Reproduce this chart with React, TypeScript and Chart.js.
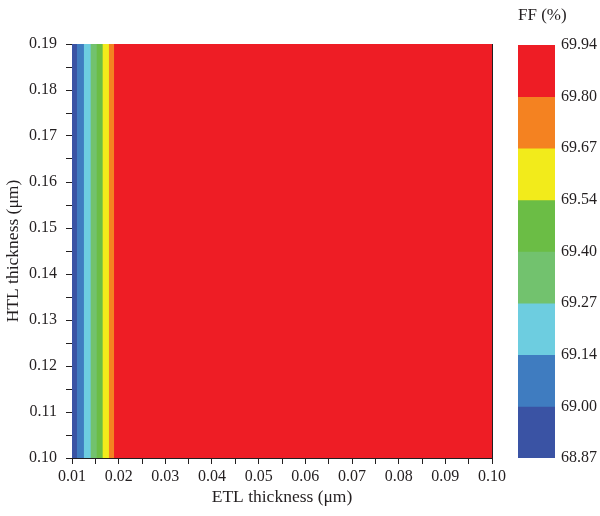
import React, { useEffect, useRef } from 'react';
import { Chart, registerables } from 'chart.js';

Chart.register(...registerables);

// ETL thickness (µm) where each FF level region begins (region extends to the right edge)
const etlLevelStarts = [0.01, 0.01107, 0.01251, 0.01395, 0.01524, 0.01652, 0.01788, 0.01901];
const etlMin = 0.01;
const etlMax = 0.1;
const htlMin = 0.1;
const htlMax = 0.19;
const ffLevels = ['68.87', '69.00', '69.14', '69.27', '69.40', '69.54', '69.67', '69.80', '69.94'];
const levelColors = ['#3a53a4', '#3f7cc0', '#6dcde0', '#72c26e', '#6bbd45', '#f2eb1b', '#f48221', '#ee1d25'];
const xTickValues = [0.01, 0.015, 0.02, 0.025, 0.03, 0.035, 0.04, 0.045, 0.05, 0.055, 0.06, 0.065, 0.07, 0.075, 0.08, 0.085, 0.09, 0.095, 0.1];
const yTickValues = [0.1, 0.105, 0.11, 0.115, 0.12, 0.125, 0.13, 0.135, 0.14, 0.145, 0.15, 0.155, 0.16, 0.165, 0.17, 0.175, 0.18, 0.185, 0.19];

const FONT = "'Liberation Serif', 'DejaVu Serif', serif";
const INK = '#231f20';

const isMajor = (v: number) => Math.round(v * 1000) % 10 === 0;

export default function App() {
  const mainRef = useRef<HTMLCanvasElement | null>(null);
  const barRef = useRef<HTMLCanvasElement | null>(null);

  useEffect(() => {
    const mainCtx = mainRef.current!.getContext('2d')!;
    const barCtx = barRef.current!.getContext('2d')!;

    const bandDatasets = etlLevelStarts.map((start, i) => ({
      label: ffLevels[i],
      data: [
        { x: start, y: htlMax },
        { x: etlMax, y: htlMax },
      ],
      fill: 'start' as const,
      backgroundColor: levelColors[i],
      borderWidth: 0,
      pointRadius: 0,
      order: etlLevelStarts.length - i,
    }));

    const main = new Chart(mainCtx, {
      type: 'line',
      data: { datasets: bandDatasets as any },
      options: {
        animation: false,
        responsive: false,
        layout: { padding: { top: 44, right: 108, left: 0, bottom: 0 } },
        plugins: { legend: { display: false }, tooltip: { enabled: false } },
        scales: {
          x: {
            type: 'linear',
            position: 'bottom',
            min: etlMin,
            max: etlMax,
            afterBuildTicks: (s: any) => {
              s.ticks = xTickValues.map((v) => ({ value: v }));
            },
            afterFit: (s: any) => {
              s.height = 58;
            },
            ticks: {
              autoSkip: false,
              maxRotation: 0,
              padding: 3,
              color: INK,
              font: { family: FONT, size: 16 },
              callback: (v: any) => (isMajor(Number(v)) ? Number(v).toFixed(2) : ''),
            },
            grid: { display: true, drawOnChartArea: false, drawTicks: true, tickLength: 6, color: INK, tickColor: INK },
            border: { display: true, color: INK, width: 1 },
            title: {
              display: true,
              text: 'ETL thickness (μm)',
              color: INK,
              font: { family: FONT, size: 17.5 },
              padding: { top: 0, bottom: 8 },
            },
          },
          y: {
            type: 'linear',
            position: 'left',
            min: htlMin,
            max: htlMax,
            afterBuildTicks: (s: any) => {
              s.ticks = yTickValues.map((v) => ({ value: v }));
            },
            afterFit: (s: any) => {
              s.width = 72;
            },
            ticks: {
              autoSkip: false,
              padding: 9,
              color: INK,
              font: { family: FONT, size: 16 },
              callback: (v: any) => (isMajor(Number(v)) ? Number(v).toFixed(2) : ''),
            },
            grid: { display: true, drawOnChartArea: false, drawTicks: true, tickLength: 6, color: INK, tickColor: INK },
            border: { display: true, color: INK, width: 1 },
            title: {
              display: true,
              text: 'HTL thickness (μm)',
              color: INK,
              font: { family: FONT, size: 17.5 },
              padding: { top: 3, bottom: 0 },
            },
          },
          xTop: {
            type: 'linear',
            position: 'top',
            min: etlMin,
            max: etlMax,
            afterFit: (s: any) => {
              s.height = 0;
            },
            ticks: { display: false },
            grid: { display: true, drawOnChartArea: false, drawTicks: false },
            border: { display: true, color: INK, width: 1 },
          },
          yRight: {
            type: 'linear',
            position: 'right',
            min: htlMin,
            max: htlMax,
            afterFit: (s: any) => {
              s.width = 0;
            },
            ticks: { display: false },
            grid: { display: true, drawOnChartArea: false, drawTicks: false },
            border: { display: true, color: INK, width: 1 },
          },
        },
      },
    });

    const n = levelColors.length;
    const colorbar = new Chart(barCtx, {
      type: 'bar',
      data: {
        labels: [''],
        datasets: levelColors.map((c, i) => ({
          label: ffLevels[i],
          data: [[i, n]] as any,
          backgroundColor: c,
          borderWidth: 0,
          grouped: false,
          barPercentage: 1,
          categoryPercentage: 1,
          order: n - i,
        })),
      },
      options: {
        animation: false,
        responsive: false,
        layout: { padding: { top: 0, right: 0, left: 18, bottom: 58 } },
        plugins: {
          legend: { display: false },
          tooltip: { enabled: false },
          title: {
            display: true,
            text: 'FF (%)',
            align: 'start',
            color: INK,
            font: { family: FONT, size: 17, weight: 'normal' },
            padding: { top: 5, bottom: 19.6 },
          },
        },
        scales: {
          x: { display: false },
          y: {
            type: 'linear',
            position: 'right',
            min: 0,
            max: n,
            afterBuildTicks: (s: any) => {
              s.ticks = ffLevels.map((_, i) => ({ value: i }));
            },
            afterFit: (s: any) => {
              s.width = 45;
            },
            ticks: {
              autoSkip: false,
              padding: 6,
              color: INK,
              font: { family: FONT, size: 16 },
              callback: (v: any) => ffLevels[Number(v)] ?? '',
            },
            grid: { display: false, drawTicks: false },
            border: { display: false },
          },
        },
      },
    });

    return () => {
      main.destroy();
      colorbar.destroy();
    };
  }, []);

  return (
    <div style={{ position: 'absolute', left: 0, top: 0, width: 600, height: 516, background: '#fff' }}>
      <canvas ref={mainRef} width={600} height={516} style={{ position: 'absolute', left: 0, top: 0 }} />
      <canvas ref={barRef} width={100} height={516} style={{ position: 'absolute', left: 500, top: 0 }} />
    </div>
  );
}
